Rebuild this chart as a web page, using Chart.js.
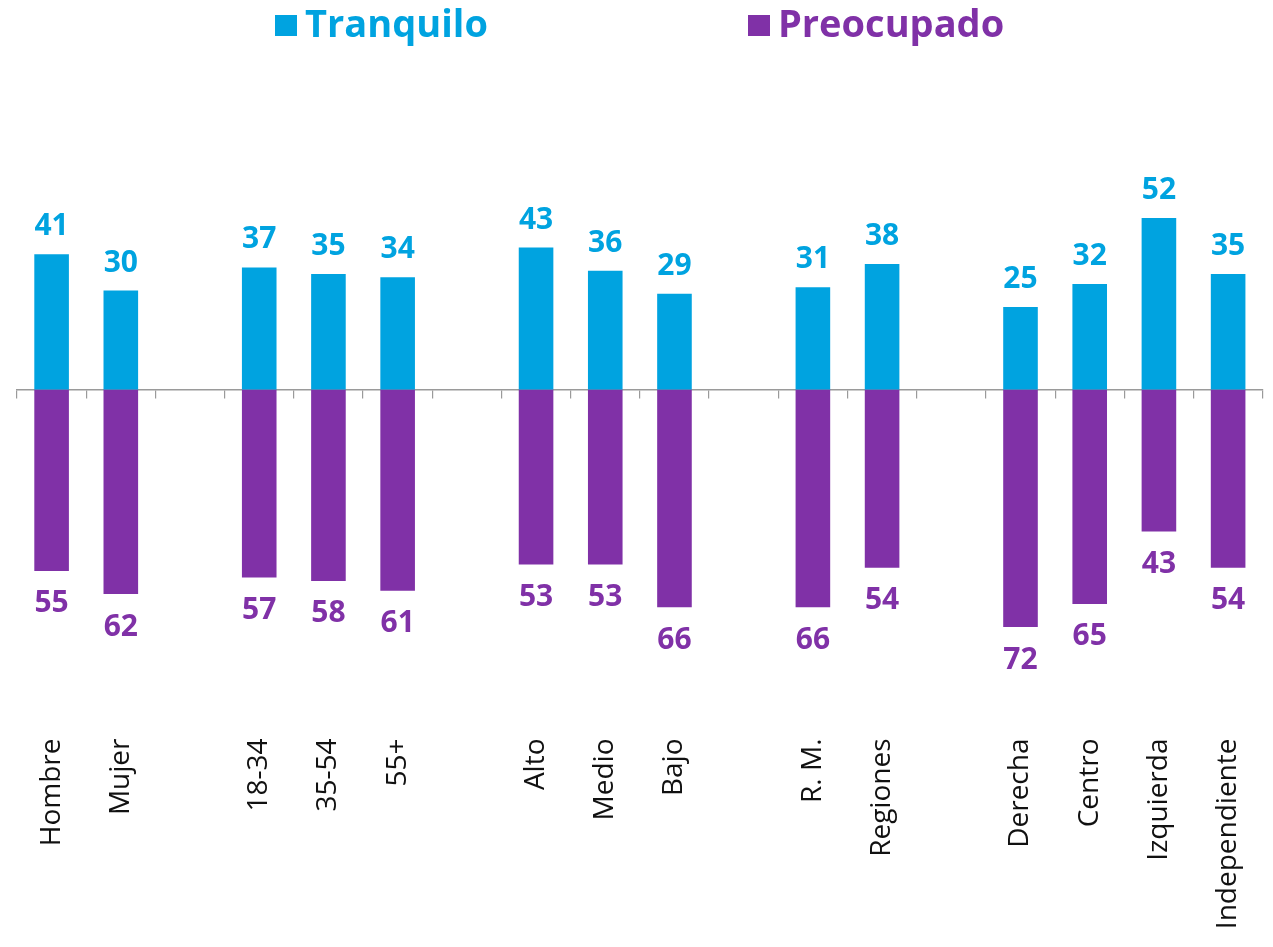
<!DOCTYPE html>
<html>
<head>
<meta charset="utf-8">
<script src="https://cdn.jsdelivr.net/npm/chart.js@4.4.0/dist/chart.umd.min.js"></script>
<style>
  html, body { margin: 0; padding: 0; background: #fff; }
</style>
</head>
<body>
<canvas id="chart" width="1273" height="947"></canvas>
<script>
const CATEGORIES = ['Hombre', 'Mujer', '', '18-34', '35-54', '55+', '', 'Alto', 'Medio', 'Bajo', '', 'R. M.', 'Regiones', '', 'Derecha', 'Centro', 'Izquierda', 'Independiente'];
const TRANQUILO = [41, 30, null, 37, 35, 34, null, 43, 36, 29, null, 31, 38, null, 25, 32, 52, 35];
const PREOCUPADO = [55, 62, null, 57, 58, 61, null, 53, 53, 66, null, 66, 54, null, 72, 65, 43, 54];
const SERIES_NAMES = ['Tranquilo', 'Preocupado'];

const COLOR_BLUE = '#00A3E0';
const COLOR_PURPLE = '#8031A7';
const FONT = '"Open Sans", "Noto Sans", sans-serif';
const LABEL_FONT = '"Open Sans", "Noto Sans", sans-serif';

// legend drawn by hand: two items far apart
const legendPlugin = {
  id: 'topLegend',
  afterDraw(chart) {
    const { ctx } = chart;
    const starts = [275, 748];
    ctx.save();
    ctx.font = `bold 38px ${FONT}`;
    ctx.textBaseline = 'alphabetic';
    ctx.textAlign = 'left';
    chart.data.datasets.forEach((ds, i) => {
      const x = starts[i];
      ctx.fillStyle = ds.backgroundColor;
      ctx.fillRect(x, 15, 22, 21);
      ctx.fillText(ds.label, x + 30, 37);
    });
    ctx.restore();
  },
};

const valueLabels = {
  id: 'valueLabels',
  afterDatasetsDraw(chart) {
    const { ctx } = chart;
    const size = 30;
    ctx.save();
    ctx.font = `bold ${size}px ${FONT}`;
    ctx.textAlign = 'center';
    ctx.textBaseline = 'alphabetic';
    chart.data.datasets.forEach((ds, i) => {
      const meta = chart.getDatasetMeta(i);
      meta.data.forEach((bar, j) => {
        const v = ds.data[j];
        if (v === null || v === undefined) return;
        ctx.fillStyle = ds.backgroundColor;
        if (v >= 0) {
          ctx.fillText(String(v), bar.x, bar.y - 19);
        } else {
          ctx.fillText(String(-v), bar.x, bar.y + 20 + size * 0.714);
        }
      });
    });
    ctx.restore();
  },
};

const data = {
  labels: CATEGORIES,
  datasets: [
    {
      label: SERIES_NAMES[0],
      data: TRANQUILO,
      backgroundColor: COLOR_BLUE,
    },
    {
      label: SERIES_NAMES[1],
      data: PREOCUPADO.map((v) => (v === null ? null : -v)),
      backgroundColor: COLOR_PURPLE,
    },
  ],
};

new Chart(document.getElementById('chart'), {
  type: 'bar',
  data,
  options: {
    responsive: false,
    animation: false,
    devicePixelRatio: 1,
    barPercentage: 1,
    categoryPercentage: 0.5,
    layout: { padding: { left: 17, right: 10, top: 191.5, bottom: 0 } },
    plugins: {
      legend: { display: false },
      tooltip: { enabled: false },
    },
    scales: {
      x: {
        stacked: true,
        grid: { display: false },
        border: { display: false },
        ticks: {
          autoSkip: false,
          minRotation: 90,
          maxRotation: 90,
          padding: 11,
          color: '#111',
          font: { family: LABEL_FONT, size: 28, weight: 'normal' },
        },
        afterFit(scale) {
          scale.height = 227.5;
        },
      },
      zero: {
        type: 'category',
        axis: 'x',
        position: { y: 0 },
        offset: true,
        grid: { drawOnChartArea: false, drawTicks: true, tickLength: 8, color: '#9a9a9a', lineWidth: 1.2, offset: true },
        border: { color: '#9a9a9a', width: 1.5 },
        ticks: { display: false },
      },
      y: {
        stacked: true,
        display: false,
        min: -100,
        max: 60,
      },
    },
  },
  plugins: [valueLabels, legendPlugin],
});
</script>
</body>
</html>
